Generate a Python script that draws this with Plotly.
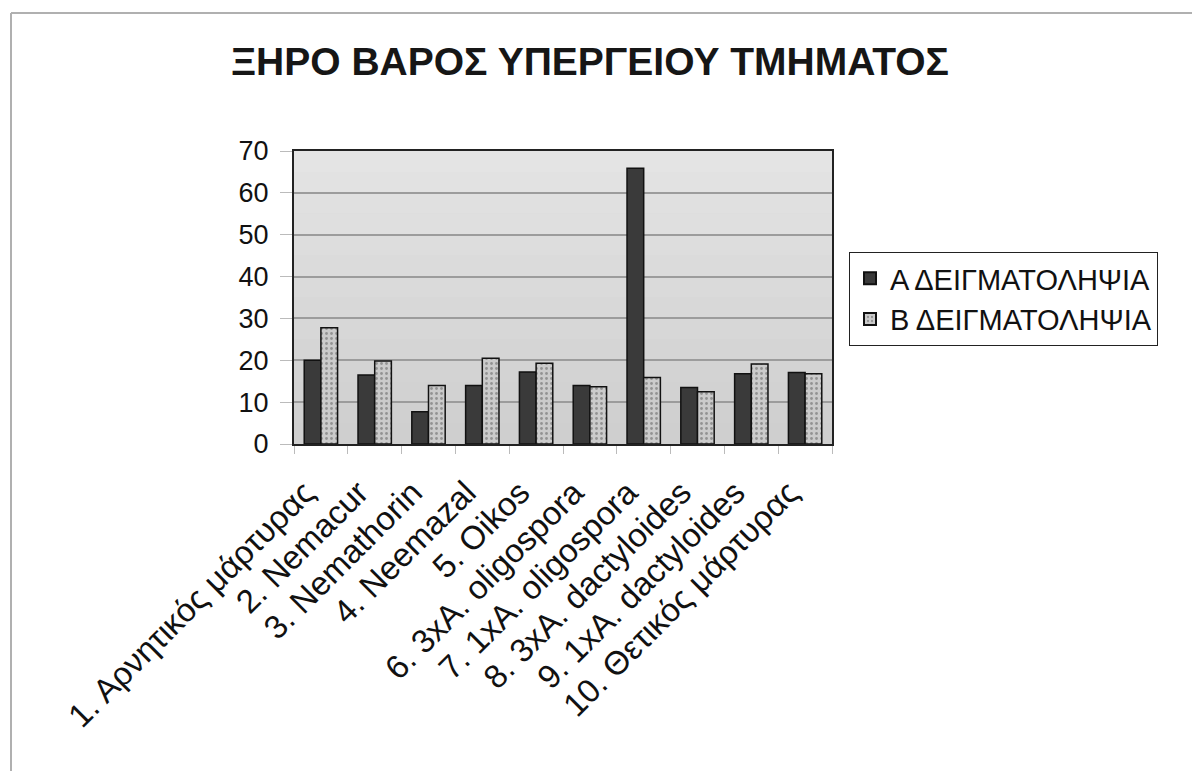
import plotly.graph_objects as go

categories = [
    "1. Αρνητικός μάρτυρας",
    "2. Nemacur",
    "3. Nemathorin",
    "4. Neemazal",
    "5. Oikos",
    "6. 3xA. oligospora",
    "7. 1xA. oligospora",
    "8. 3xA. dactyloides",
    "9. 1xA. dactyloides",
    "10. Θετικός μάρτυρας",
]
series_a = [20.0, 16.5, 7.7, 14.0, 17.2, 14.0, 65.9, 13.5, 16.8, 17.1]
series_b = [27.8, 19.8, 14.0, 20.5, 19.3, 13.7, 15.9, 12.5, 19.1, 16.8]
name_a = "Α ΔΕΙΓΜΑΤΟΛΗΨΙΑ"
name_b = "Β ΔΕΙΓΜΑΤΟΛΗΨΙΑ"
title = "ΞΗΡΟ ΒΑΡΟΣ ΥΠΕΡΓΕΙΟΥ ΤΜΗΜΑΤΟΣ"

FONT = "Liberation Sans, Arial, sans-serif"

fig = go.Figure()
fig.add_trace(go.Bar(
    x=categories, y=series_a, name=name_a,
    marker=dict(color="#3a3a3a", line=dict(color="#111111", width=1.5)),
))
fig.add_trace(go.Bar(
    x=categories, y=series_b, name=name_b,
    marker=dict(color="#c4c4c4", line=dict(color="#111111", width=1.5),
                pattern=dict(shape=".", fgcolor="#5a5a5a", bgcolor="#cbcbcb",
                             size=5, solidity=0.25)),
))

L, R, T, B = 294, 360, 151, 327
W, H = 1192, 771
pw, ph = W - L - R, H - T - B

def px_x(p):
    return (p - L) / pw

def px_y(p):
    return (H - B - p) / ph

fig.update_layout(
    width=W, height=H,
    margin=dict(l=L, r=R, t=T, b=B, pad=0),
    paper_bgcolor="white",
    plot_bgcolor="#d6d6d6",
    font=dict(family=FONT, color="#111111"),
    barmode="group",
    bargap=0.38,
    bargroupgap=0.0,
    title=dict(text="<b>" + title + "</b>", xref="container", x=590 / W, xanchor="center",
               yref="container", y=1 - 61 / H, yanchor="middle",
               font=dict(size=39, family=FONT, color="#161616")),
    legend=dict(x=px_x(849), y=px_y(252), xanchor="left", yanchor="top",
                bordercolor="#222222", borderwidth=1, bgcolor="white",
                font=dict(size=29, family=FONT, color="#111111"),
                itemsizing="constant", itemwidth=30),
    showlegend=True,
)
fig.update_xaxes(
    type="category", tickangle=-45, tickfont=dict(size=33, family=FONT, color="#111111"),
    showline=True, linecolor="#222222", linewidth=2, mirror=True,
    ticks="outside", tickson="boundaries", ticklen=8, tickcolor="#bbbbbb",
    showgrid=False, automargin=False, ticklabelstandoff=14, ticklabelshift=-16,
)
fig.update_yaxes(
    range=[0, 70], dtick=10, tickfont=dict(size=27, family=FONT, color="#111111"),
    showline=True, linecolor="#222222", linewidth=2, mirror=True,
    showgrid=True, gridcolor="#9c9c9c", gridwidth=2,
    ticks="outside", ticklen=12, tickcolor="#bbbbbb", ticklabelstandoff=6,
    zeroline=False, automargin=False,
)

# soft vertical gradient of the plot area (lighter at top)
n_bands = 14
for i in range(n_bands):
    g = int(0xcf + (0xe4 - 0xcf) * i / (n_bands - 1))
    fig.add_shape(type="rect", xref="paper", yref="paper", layer="below",
                  x0=0, x1=1, y0=i / n_bands, y1=(i + 1) / n_bands,
                  fillcolor=f"rgb({g},{g},{g})", line=dict(width=0))

# outer chart frame (top and left edges visible)
fig.add_shape(type="line", xref="paper", yref="paper",
              x0=px_x(11), x1=px_x(1192), y0=px_y(13), y1=px_y(13),
              line=dict(color="#b0b0b0", width=2))
fig.add_shape(type="line", xref="paper", yref="paper",
              x0=px_x(11), x1=px_x(11), y0=px_y(13), y1=px_y(771),
              line=dict(color="#b0b0b0", width=2))

fig.write_html("out.html")
